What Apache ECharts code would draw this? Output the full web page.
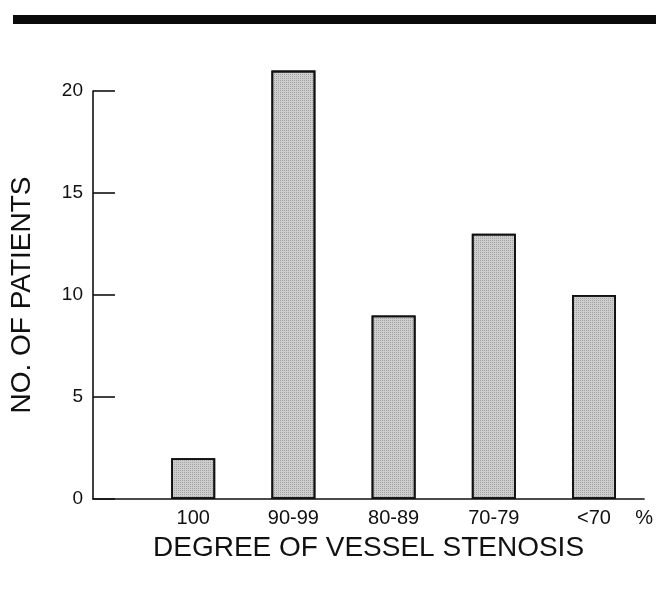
<!DOCTYPE html>
<html>
<head>
<meta charset="utf-8">
<script src="https://cdn.jsdelivr.net/npm/echarts@6/dist/echarts.min.js"></script>
<style>
html,body{margin:0;padding:0;background:#fff;}
#chart{width:656px;height:610px;}
</style>
</head>
<body>
<div id="chart"></div>
<script>
const categories = ['100', '90-99', '80-89', '70-79', '<70'];
const patients = [2, 21, 9, 13, 10];
const yTicks = [0, 5, 10, 15, 20];
const unitLabel = '%';
const xTitle = 'DEGREE OF VESSEL STENOSIS';
const yTitle = 'NO. OF PATIENTS';

const chart = echarts.init(document.getElementById('chart'), null, {renderer: 'canvas'});
const font = '"Liberation Sans", Arial, Helvetica, sans-serif';
const barData = categories.map((c, i) => [i + 1, patients[i]]);

chart.setOption({
  backgroundColor: '#ffffff',
  animation: false,
  graphic: [{
    type: 'rect',
    shape: {x: 13, y: 15, width: 643, height: 9},
    style: {fill: '#0a0a0a'}
  }],
  grid: {left: 93, right: 11, top: 91, bottom: 111, containLabel: false},
  xAxis: {
    type: 'value',
    min: 0,
    max: categories.length + 0.5,
    interval: 1,
    splitLine: {show: false},
    axisTick: {show: false},
    axisLine: {show: true, onZero: false, lineStyle: {color: '#111', width: 1.6}},
    axisLabel: {
      show: true,
      showMinLabel: true,
      showMaxLabel: true,
      margin: 9,
      color: '#111',
      fontFamily: font,
      fontSize: 20,
      formatter: function (v) {
        if (v === categories.length + 0.5) return unitLabel;
        if (Number.isInteger(v) && v >= 1 && v <= categories.length) return categories[v - 1];
        return '';
      }
    },
    name: xTitle,
    nameLocation: 'middle',
    nameGap: 35,
    nameTextStyle: {color: '#111', fontFamily: font, fontSize: 28}
  },
  yAxis: {
    type: 'value',
    min: yTicks[0],
    max: yTicks[yTicks.length - 1],
    interval: yTicks[1] - yTicks[0],
    splitLine: {show: false},
    axisLine: {show: true, lineStyle: {color: '#111', width: 1.6}},
    axisTick: {show: true, inside: true, length: 22, lineStyle: {color: '#111', width: 1.6}},
    axisLabel: {color: '#111', fontFamily: font, fontSize: 19, margin: 10},
    name: yTitle,
    nameLocation: 'middle',
    nameGap: 57,
    nameRotate: 90,
    nameTextStyle: {color: '#111', fontFamily: font, fontSize: 28}
  },
  series: [{
    type: 'bar',
    data: barData,
    barWidth: 44,
    clip: false,
    itemStyle: {
      color: '#cdcdcd',
      borderColor: '#111',
      borderWidth: 1.8,
      decal: {
        symbol: 'rect',
        symbolSize: 1,
        dashArrayX: [1, 1],
        dashArrayY: [1, 1],
        rotation: 0,
        color: 'rgba(90,90,90,0.35)'
      }
    }
  }]
});
</script>
</body>
</html>
